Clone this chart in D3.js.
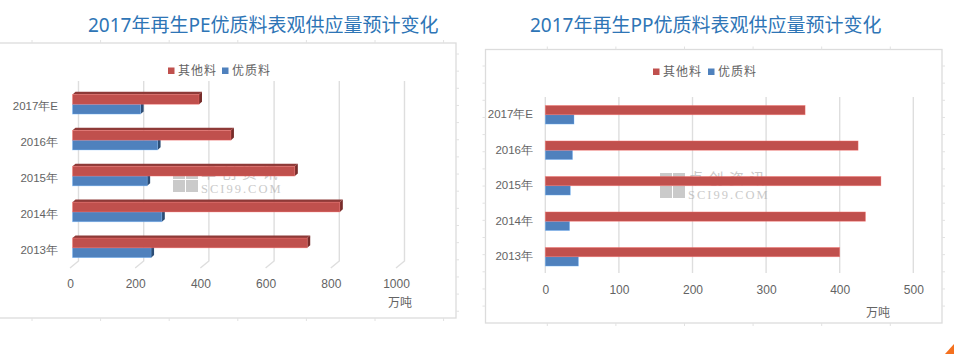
<!DOCTYPE html>
<html lang="zh">
<head>
  <meta charset="UTF-8" />
  <title>2017年再生料表观供应量预计变化</title>
  <script src="https://d3js.org/d3.v7.min.js"></script>
  <style>
    html, body { margin: 0; padding: 0; background: #fff; overflow: hidden; }
    svg { display: block; font-family: "Noto Sans", "Noto Sans CJK SC", sans-serif; }
    .frame { fill: #fff; stroke: #dcdcdc; stroke-width: 1.3px; }
    .mark { stroke: #e2e2e2; stroke-width: 1px; }
    .grid { stroke: #dedede; stroke-width: 1.4px; }
    .lab { fill: #636363; font-size: 12px; }
    .cat { fill: #636363; font-size: 11.5px; }
    .title { fill: #2e75b6; font-size: 19px; }
  </style>
</head>
<body>
  <svg id="chart" width="954" height="354"></svg>

  <script>
    const categories = ["2017年E", "2016年", "2015年", "2014年", "2013年"];
    const seriesNames = ["其他料", "优质料"];

    const peOther = [388, 486, 682, 820, 720];
    const peGood = [209, 261, 229, 274, 241];
    const ppOther = [353, 425, 456, 435, 400];
    const ppGood = [39, 37, 34, 33, 45];

    const peTicks = [0, 200, 400, 600, 800, 1000];
    const ppTicks = [0, 100, 200, 300, 400, 500];

    const red = "#c0504d", blue = "#4f81bd";

    const svg = d3.select("#chart");

    // background sheet tick marks sticking out of a frame
    function frameMarks(g, f, left) {
      const xs = d3.range(f.markX, f.x1, 68.6);
      g.selectAll(".mx").data(xs).enter().append("path").attr("class", "mark")
        .attr("d", d => `M${d},${f.y0 - 3}V${f.y0}M${d},${f.y1}V${f.y1 + 3}`);
      const ys = d3.range(f.markY, f.y1 - 4, 17.15);
      g.selectAll(".my").data(ys).enter().append("path").attr("class", "mark")
        .attr("d", d => left
          ? `M${f.x0 - 3},${d}H${f.x0}M${f.x1},${d}H${f.x1 + 3}`
          : `M${f.x1},${d}H${f.x1 + 3}`);
    }

    function legend(g, o) {
      seriesNames.forEach((name, i) => {
        const sx = i == 0 ? o.legendX[0] : o.legendX[1];
        g.append("rect").attr("x", sx).attr("y", o.legendY - 3.5)
          .attr("width", 6.5).attr("height", 6.5)
          .attr("fill", i == 0 ? red : blue);
        g.append("text").attr("class", "lab")
          .attr("x", sx + 10).attr("y", o.legendY + 4.3)
          .style("letter-spacing", "1px")
          .text(name);
      });
    }

    // x = left of the squares, y = bottom of the squares
    function watermark(g, x, y) {
      const w = g.append("g").attr("transform", `translate(${x},${y})`).attr("opacity", 0.6);
      w.selectAll("rect").data([[0, -25, 12], [13, -25, 12], [0, -12, 12], [13, -12, 12]]).enter().append("rect")
        .attr("x", d => d[0]).attr("y", d => d[1])
        .attr("width", d => d[2]).attr("height", 12)
        .attr("fill", "#a8a8a8");
      w.append("text").attr("x", 28).attr("y", -14.5).attr("font-size", 15)
        .attr("fill", "#a8a8a8").style("letter-spacing", "5.5px").text("卓创资讯");
      w.append("text").attr("x", 28).attr("y", 1).attr("font-size", 12.5)
        .attr("font-family", "Liberation Serif").attr("fill", "#a8a8a8")
        .style("letter-spacing", "2px").text("SCI99.COM");
    }

    function drawChart(o) {
      const g = svg.append("g");

      g.append("rect").attr("class", "frame")
        .attr("x", o.frame.x0).attr("y", o.frame.y0)
        .attr("width", o.frame.x1 - o.frame.x0).attr("height", o.frame.y1 - o.frame.y0);
      frameMarks(g, o.frame, o.frame.x0 > 0);

      g.append("text").attr("class", "title")
        .attr("x", o.titleX).attr("y", o.titleY).text(o.title);

      legend(g, o);

      const x = d3.scaleLinear().domain(o.domain).range(o.xRange);
      const y = d3.scaleBand().domain(categories).range(o.yRange);
      const barH = o.barH;

      // grid, shifted back by the depth in the 3d chart
      g.selectAll(".grid").data(o.ticks).enter().append("path").attr("class", "grid")
        .attr("fill", "none")
        .attr("d", d => {
          const gx = x(d) + o.backX;
          let p = `M${gx},${o.gridTop}V${o.gridBottom}`;
          if (o.depth) p += `L${gx - 8.5},${o.gridBottom + 7}`;
          return p;
        });

      const axis = d3.axisBottom(x).tickValues(o.ticks).tickFormat(d3.format("d")).tickSize(0).tickPadding(0);
      const ax = g.append("g").attr("transform", `translate(${o.labelDx},${o.labelY})`).call(axis);
      ax.select(".domain").remove();
      ax.selectAll("text").attr("class", "lab").attr("y", 0).attr("dy", "0.35em").attr("fill", null);

      const cat = d3.axisLeft(y).tickSize(0).tickPadding(0);
      const ay = g.append("g").attr("transform", `translate(${o.catX},${o.catDy})`).call(cat);
      ay.select(".domain").remove();
      ay.selectAll("text").attr("class", "cat").attr("fill", null);

      g.append("text").attr("class", "lab")
        .attr("x", o.unitX).attr("y", o.unitY).text("万吨");

      watermark(g, o.wmX, o.wmY);

      const series = [
        { vals: o.good, color: blue, side: "#2c4d75", row: 1 },
        { vals: o.other, color: red, side: "#772c2a", top: "#8e3a38", row: 0 }
      ];

      series.forEach(s => {
        const rows = g.append("g").selectAll("g").data(categories).enter().append("g");
        const by = d => y(d) + y.bandwidth() / 2 + (s.row - 1) * barH;
        const bw = (d, i) => x(s.vals[i]) - x(0);

        if (o.depth) {
          rows.append("path").attr("fill", s.side)
            .attr("d", (d, i) => {
              const r = x(s.vals[i]), t = by(d);
              return `M${r},${t}L${r + 3},${t - 2.6}V${t + barH - 2.6}L${r},${t + barH}Z`;
            });
          if (s.top) {
            rows.append("path").attr("fill", s.top)
              .attr("d", (d, i) => {
                const r = x(s.vals[i]), t = by(d);
                return `M${x(0)},${t}L${x(0) + 3},${t - 2.6}H${r + 3}L${r},${t}Z`;
              });
          }
        }
        rows.append("rect")
          .attr("x", x(0)).attr("y", by)
          .attr("width", bw).attr("height", barH)
          .attr("fill", s.color)
          .attr("stroke", d3.color(s.color).brighter(1).formatHex())
          .attr("stroke-opacity", 0.5)
          .attr("stroke-width", 0.7);
      });
    }

    drawChart({
      title: "2017年再生PE优质料表观供应量预计变化", titleX: 88, titleY: 32,
      frame: { x0: -2, x1: 456, y0: 43, y1: 318, markX: 32, markY: 54 },
      legendX: [168, 222], legendY: 71,
      other: peOther, good: peGood, ticks: peTicks,
      domain: [0, 1000], xRange: [72.5, 398.5], yRange: [86.3, 265.8], barH: 9.8,
      depth: true, backX: 6, gridTop: 81, gridBottom: 261,
      labelDx: -2.5, labelY: 284, catX: 58, catDy: 2.5,
      unitX: 388, unitY: 307, wmX: 173, wmY: 192
    });

    drawChart({
      title: "2017年再生PP优质料表观供应量预计变化", titleX: 530, titleY: 32,
      frame: { x0: 485.5, x1: 942, y0: 49.5, y1: 323, markX: 547.3, markY: 66 },
      legendX: [653, 708], legendY: 72,
      other: ppOther, good: ppGood, ticks: ppTicks,
      domain: [0, 500], xRange: [545.3, 913.3], yRange: [97, 274.5], barH: 9.3,
      depth: false, backX: 0, gridTop: 97, gridBottom: 273,
      labelDx: 0, labelY: 290, catX: 533, catDy: 0,
      unitX: 866, unitY: 317, wmX: 660, wmY: 198
    });

    // orange corner at the bottom right
    svg.append("path").attr("fill", "#f4701e").attr("d", "M945,354L954,344V354Z");
  </script>
</body>
</html>
